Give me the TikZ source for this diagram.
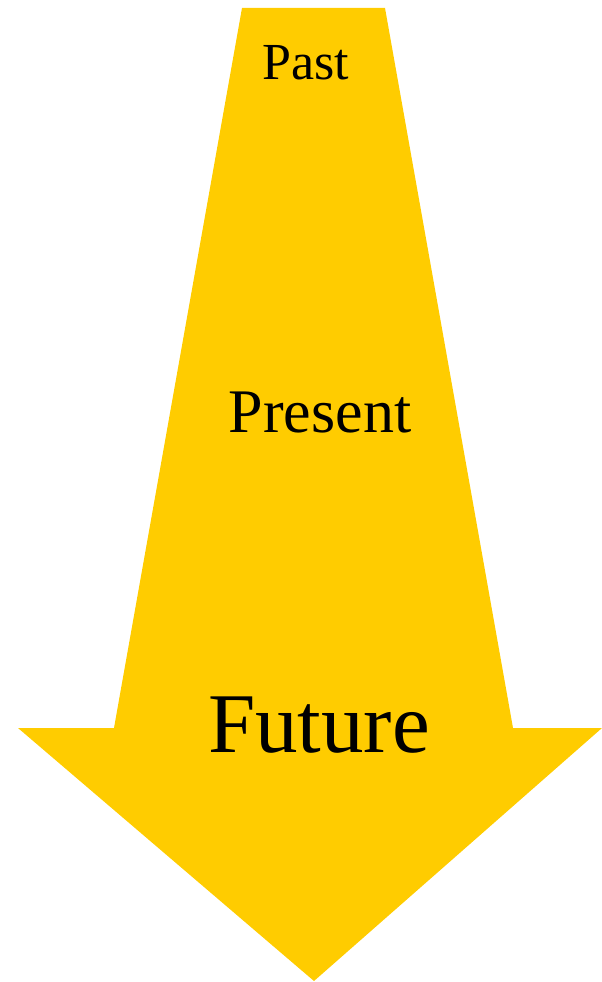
\documentclass[tikz,border=0pt]{standalone}
\usepackage{fontspec}
\setmainfont{Liberation Serif}
\definecolor{arrowyellow}{HTML}{FFCC00}
\begin{document}
\begin{tikzpicture}[x=1pt,y=-1pt,
  lbl/.style={anchor=base,inner sep=0pt,text=black}]
\useasboundingbox (0,0) rectangle (602,982);
\fill[arrowyellow] (242,8) -- (385,8) -- (513,728) -- (602,728) -- (314,981)
  -- (18,728) -- (114,728) -- cycle;
\node[lbl] (past) at (306,80) {\fontsize{52}{60}\selectfont Past};
\node[lbl] (present) at (320,432) {\fontsize{62}{70}\selectfont Present};
\node[lbl] (future) at (319,752) {\fontsize{85}{95}\selectfont Future};
\end{tikzpicture}
\end{document}
